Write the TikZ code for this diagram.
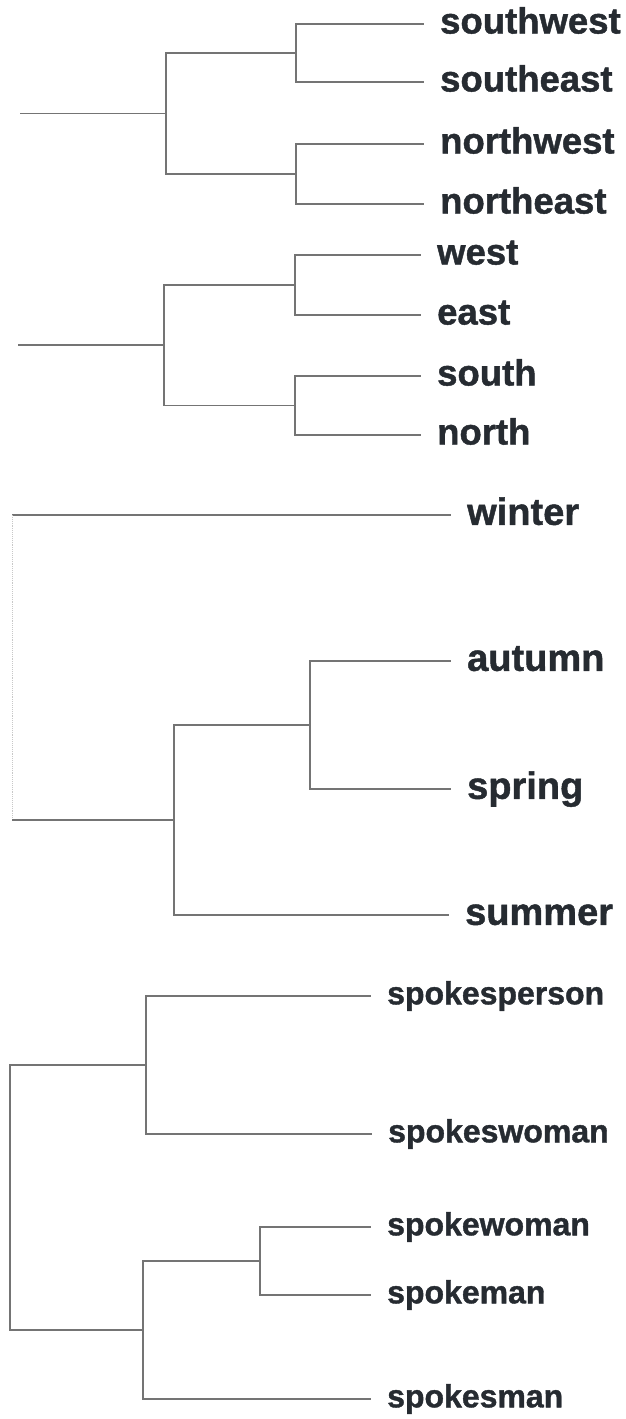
\documentclass[tikz,border=0pt]{standalone}
\usepackage{fontspec}
\setmainfont{Liberation Sans}[BoldFeatures={FakeBold=1.2}]
\definecolor{ink}{HTML}{262B31}
\definecolor{wirec}{HTML}{747474}
\definecolor{faintc}{HTML}{C8C8C8}
\begin{document}
\begin{tikzpicture}[x=1pt,y=-1pt,
  wire/.style={draw=wirec, line width=1.1pt},
  faintwire/.style={draw=faintc, line width=0.9pt, densely dotted},
  leafline/.style={wire, shorten >=16pt},
  leafbase/.style={anchor=west, inner sep=0pt, text depth=0pt, text=ink},
  leafA/.style={leafbase, text height=19pt, font=\bfseries\fontsize{36.5}{40}\selectfont},
  leafC/.style={leafbase, text height=19.7pt, font=\bfseries\fontsize{38}{42}\selectfont},
  leafD/.style={leafbase, text height=16.6pt, font=\bfseries\fontsize{32}{36}\selectfont},
]
\useasboundingbox (0,0) rectangle (626,1419);

% ---- group A ----
\node[leafA] (sw) at (440,24)  {southwest};
\node[leafA] (se) at (440,82)  {southeast};
\node[leafA] (nw) at (440,144) {northwest};
\node[leafA] (ne) at (440,204) {northeast};
\coordinate (ar) at (20,113.5);
\coordinate (a)  at (166,113.5);
\coordinate (a1) at (296,53);
\coordinate (a2) at (296,174);
\draw[wire] (ar) -- (a);
\draw[wire] (a) |- (a1);
\draw[wire] (a) |- (a2);
\draw[leafline] (a1) |- (sw.west);
\draw[leafline] (a1) |- (se.west);
\draw[leafline] (a2) |- (nw.west);
\draw[leafline] (a2) |- (ne.west);

% ---- group B ----
\node[leafA] (w) at (437,255) {west};
\node[leafA] (e) at (437,315) {east};
\node[leafA] (s) at (437,376) {south};
\node[leafA] (n) at (437,435) {north};
\coordinate (br) at (18,345);
\coordinate (b)  at (164,345);
\coordinate (b1) at (295,285);
\coordinate (b2) at (295,405.5);
\draw[wire] (br) -- (b);
\draw[wire] (b) |- (b1);
\draw[wire] (b) |- (b2);
\draw[leafline] (b1) |- (w.west);
\draw[leafline] (b1) |- (e.west);
\draw[leafline] (b2) |- (s.west);
\draw[leafline] (b2) |- (n.west);

% ---- group C ----
\node[leafC] (winter) at (467,515) {winter};
\node[leafC] (autumn) at (467,661) {autumn};
\node[leafC] (spring) at (467,789) {spring};
\node[leafC] (summer) at (465,915) {summer};
\coordinate (cw) at (12,515);
\coordinate (cr) at (12,820);
\coordinate (c)  at (174,820);
\coordinate (c1) at (310,725);
\draw[leafline] (cw) -- (winter.west);
\draw[faintwire] (cw) -- (cr);
\draw[wire] (cr) -- (c);
\draw[wire] (c) |- (c1);
\draw[leafline] (c) |- (summer.west);
\draw[leafline] (c1) |- (autumn.west);
\draw[leafline] (c1) |- (spring.west);

% ---- group D ----
\node[leafD] (sp)   at (387,996)  {spokesperson};
\node[leafD] (sw2)  at (388,1134) {spokeswoman};
\node[leafD] (swn)  at (387,1227) {spokewoman};
\node[leafD] (sm)   at (387,1295) {spokeman};
\node[leafD] (sman) at (387,1399) {spokesman};
\coordinate (d1)  at (146,1065);
\coordinate (dt)  at (10,1065);
\coordinate (dr)  at (10,1330);
\coordinate (d2)  at (143,1330);
\coordinate (d21) at (260,1261);
\draw[wire] (d1) -- (dt) -- (dr) -- (d2);
\draw[leafline] (d1) |- (sp.west);
\draw[leafline] (d1) |- (sw2.west);
\draw[wire] (d2) |- (d21);
\draw[leafline] (d2) |- (sman.west);
\draw[leafline] (d21) |- (swn.west);
\draw[leafline] (d21) |- (sm.west);
\end{tikzpicture}
\end{document}
